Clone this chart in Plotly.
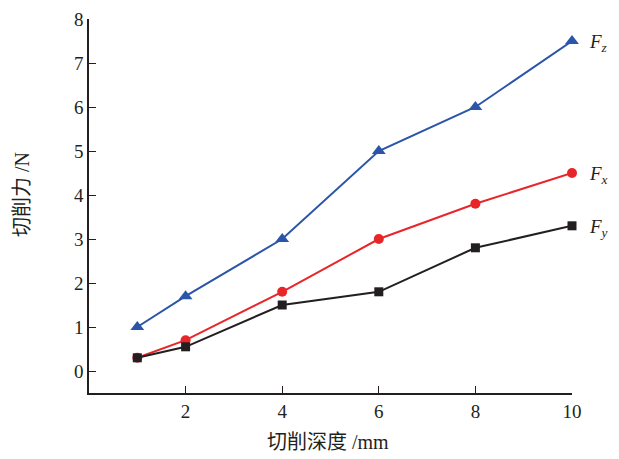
import plotly.graph_objects as go

depth = [1, 2, 4, 6, 8, 10]
fz = [1.0, 1.7, 3.0, 5.0, 6.0, 7.5]
fx = [0.3, 0.7, 1.8, 3.0, 3.8, 4.5]
fy = [0.3, 0.55, 1.5, 1.8, 2.8, 3.3]
x_ticks = [2, 4, 6, 8, 10]
y_ticks = [0, 1, 2, 3, 4, 5, 6, 7, 8]
x_title = "切削深度 /mm"
y_title = "切削力 /N"

serif = "Liberation Serif, Times New Roman, Noto Sans CJK SC, serif"
# page has an 8px body margin, so the figure is sized to fit the window
W, H = 611, 451
ML, MR, MT, MB = 81, 47, 11, 66
PW, PH = W - ML - MR, H - MT - MB

fig = go.Figure()
series = [
    ("Fz", fz, "#2a55a8", "triangle-up", 12),
    ("Fx", fx, "#e8262a", "circle", 10),
    ("Fy", fy, "#231f20", "square", 9),
]
for name, ys, col, sym, ms in series:
    fig.add_trace(go.Scatter(
        x=depth, y=ys, mode="lines+markers", name=name,
        line=dict(color=col, width=2),
        marker=dict(symbol=sym, size=ms, color=col),
        cliponaxis=False, showlegend=False,
    ))

labels = [("z", fz[-1]), ("x", fx[-1]), ("y", fy[-1])]
for sub, yv in labels:
    fig.add_annotation(
        x=depth[-1], y=yv, xref="x", yref="y",
        text=f"<i>F</i><sub><i>{sub}</i></sub>",
        showarrow=False, xanchor="left", xshift=15, yshift=-2,
        font=dict(family=serif, size=19, color="#231f20"),
    )

# axis titles (positions relative to plot area)
fig.add_annotation(
    x=(320 - ML) / PW, y=(H - MB - 434) / PH, xref="paper", yref="paper",
    text=x_title, showarrow=False, xanchor="center", yanchor="middle",
    font=dict(family=serif, size=20, color="#231f20"),
)
fig.add_annotation(
    x=(14 - ML) / PW, y=(H - MB - 187) / PH, xref="paper", yref="paper",
    text=y_title, showarrow=False, textangle=-90, xanchor="center", yanchor="middle",
    font=dict(family=serif, size=20, color="#231f20"),
)

fig.update_layout(
    width=W, height=H,
    margin=dict(l=ML, r=MR, t=MT, b=MB, autoexpand=False),
    paper_bgcolor="white", plot_bgcolor="white",
    font=dict(family=serif, size=19, color="#231f20"),
    xaxis=dict(
        range=[0, 10], tickvals=x_ticks, ticks="inside", ticklen=7,
        tickcolor="#231f20", showline=True, linecolor="#231f20", linewidth=1.5,
        showgrid=False, zeroline=False, automargin=False,
        tickfont=dict(family=serif, size=19),
    ),
    yaxis=dict(
        range=[-0.5, 8], tickvals=y_ticks, ticks="inside", ticklen=7,
        tickcolor="#231f20", showline=True, linecolor="#231f20", linewidth=1.5,
        showgrid=False, zeroline=False, automargin=False,
        tickfont=dict(family=serif, size=19),
    ),
)

fig.write_html("out.html")
